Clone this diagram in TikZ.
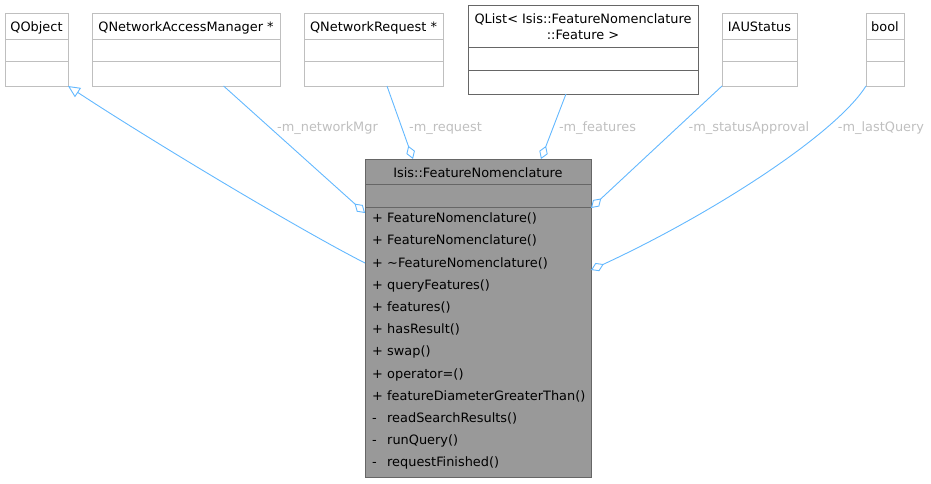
\documentclass[tikz,border=0pt]{standalone}
\usepackage{fontspec}
\setmainfont{DejaVu Sans}
\usetikzlibrary{arrows.meta,calc}
\definecolor{edgeblue}{RGB}{99,184,255}
\definecolor{lightborder}{RGB}{191,191,191}
\definecolor{darkborder}{RGB}{102,102,102}
\definecolor{mainfill}{RGB}{153,153,153}
\definecolor{labelgray}{RGB}{191,191,191}
\begin{document}
\begin{tikzpicture}[x=1pt,y=-1pt,
  font=\fontsize{12.9}{15.7}\selectfont,
  umlbox/.style={draw=lightborder, line width=1pt, inner sep=0pt, outer sep=0pt, anchor=north west, minimum height=73pt},
  darkbox/.style={umlbox, draw=darkborder},
  mainbox/.style={umlbox, draw=darkborder, fill=mainfill},
  divlight/.style={draw=lightborder, line width=1pt},
  divdark/.style={draw=darkborder, line width=1pt},
  txt/.style={inner sep=0pt, anchor=base},
  rowtxt/.style={inner sep=0pt, anchor=base west},
  elabel/.style={inner sep=0pt, anchor=base, text=labelgray},
  agg/.style={draw=edgeblue, line width=0.9pt, -{Diamond[open, length=14pt, width=9pt]}},
  inh/.style={draw=edgeblue, line width=0.9pt, -{Triangle[open, length=12pt, width=11pt]}}
]
\useasboundingbox (0,0) rectangle (931,483);

% top boxes
\node[umlbox, minimum width=63pt] (qobj) at (5,13) {};
\draw[divlight] (5,39) -- (68,39) (5,61) -- (68,61);
\node[txt] (qobjt) at (36.5,31.7) {QObject};

\node[umlbox, minimum width=188pt] (qnam) at (92,13) {};
\draw[divlight] (92,39) -- (280,39) (92,61) -- (280,61);
\node[txt] (qnamt) at (186,31.7) {QNetworkAccessManager *};

\node[umlbox, minimum width=139pt] (qnr) at (304,13) {};
\draw[divlight] (304,39) -- (443,39) (304,61) -- (443,61);
\node[txt] (qnrt) at (373.5,31.7) {QNetworkRequest *};

\node[darkbox, minimum width=230pt, minimum height=89pt] (qlist) at (468,5) {};
\draw[divdark] (468,47) -- (698,47) (468,70) -- (698,70);
\node[txt] (qlistt1) at (583,23.3) {QList\textless{} Isis::FeatureNomenclature};
\node[txt] (qlistt2) at (583,39) {::Feature \textgreater};

\node[umlbox, minimum width=75pt] (iau) at (722,13) {};
\draw[divlight] (722,39) -- (797,39) (722,61) -- (797,61);
\node[txt] (iaut) at (759.5,31.7) {IAUStatus};

\node[umlbox, minimum width=38pt] (bool) at (866,13) {};
\draw[divlight] (866,39) -- (904,39) (866,61) -- (904,61);
\node[txt] (boolt) at (885,31.7) {bool};

% main class
\node[mainbox, minimum width=226pt, minimum height=318pt] (main) at (365,159) {};
\draw[divdark] (365,184) -- (591,184) (365,207) -- (591,207);
\node[txt] (maint) at (478,177.7) {Isis::FeatureNomenclature};

\foreach \s/\n [count=\i from 0] in {
  +/FeatureNomenclature(),
  +/FeatureNomenclature(),
  +/\textasciitilde FeatureNomenclature(),
  +/queryFeatures(),
  +/features(),
  +/hasResult(),
  +/swap(),
  +/operator=(),
  +/featureDiameterGreaterThan(),
  -/readSearchResults(),
  -/runQuery(),
  -/requestFinished()} {
  \node[rowtxt] (sign\i) at (372,222.7+22.2*\i) {\s};
  \node[rowtxt] (row\i) at (387,222.7+22.2*\i) {\n};
}

% connectors
\draw[inh] ($(main.north west)+(0,104)$) .. controls (300,230) and (150,140) .. (qobj.south east);
\draw[agg] ($(qnam.south west)!0.7!(qnam.south east)$) -- ($(main.north west)+(0,54)$);
\draw[agg] ($(qnr.south west)!0.597!(qnr.south east)$) -- ($(main.north west)+(48,0)$);
\draw[agg] ($(qlist.south west)!0.426!(qlist.south east)$) -- ($(main.north west)+(176,0)$);
\draw[agg] (iau.south west) -- ($(main.north east)+(0,49)$);
\draw[agg] (bool.south west) .. controls (835,135) and (710,215) .. ($(main.north east)+(0,111)$);

% labels
\node[elabel] (lnm) at (327.5,131) {-m\_networkMgr};
\node[elabel] (lrq) at (445.5,131) {-m\_request};
\node[elabel] (lft) at (597.5,131) {-m\_features};
\node[elabel] (lsa) at (749,131) {-m\_statusApproval};
\node[elabel] (llq) at (881,131) {-m\_lastQuery};
\end{tikzpicture}
\end{document}
